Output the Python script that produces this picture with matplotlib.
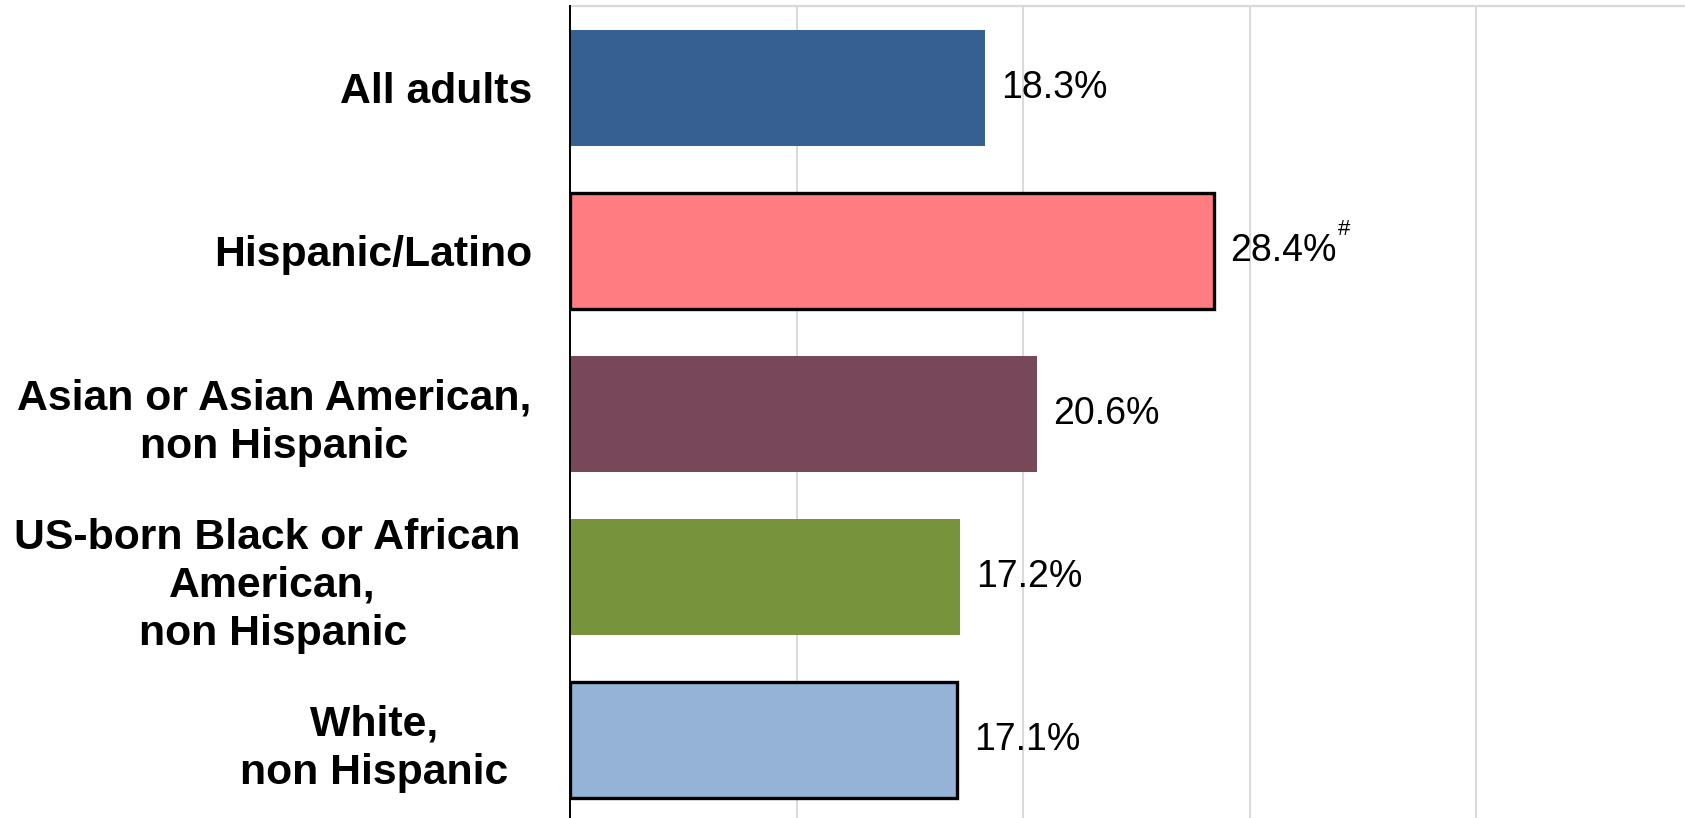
import matplotlib
matplotlib.use("Agg")
import matplotlib.pyplot as plt

# Share of adults in each group (percent)
groups = [
    "All adults",
    "Hispanic/Latino",
    "Asian or Asian American,\nnon Hispanic",
    "US-born Black or African \nAmerican,\nnon Hispanic",
    "White,  \nnon Hispanic  ",
]
values = [18.3, 28.4, 20.6, 17.2, 17.1]
value_notes = ["", "#", "", "", ""]
bar_colors = ["#366092", "#FF7C80", "#77475A", "#77933C", "#95B3D7"]
outlined = [False, True, False, False, True]

plt.rcParams["font.family"] = ["Liberation Sans", "DejaVu Sans"]

W, H = 1685, 818
fig = plt.figure(figsize=(W / 100, H / 100), dpi=100)
ax = fig.add_axes([570 / W, -4 / H, (1703 - 570) / W, (818 - 2) / H])

ypos = list(range(len(groups)))
for y, v, c, o in zip(ypos, values, bar_colors, outlined):
    ax.barh(y, v, height=0.71, color=c,
            edgecolor="black" if o else "none",
            linewidth=2.4 if o else 0, zorder=3)

ax.set_xlim(0, 50)
ax.set_ylim(len(groups) - 0.5, -0.5)
ax.set_xticks([0, 10, 20, 30, 40, 50])
ax.xaxis.grid(True, color="#D9D9D9", linewidth=1.4, zorder=0)
ax.tick_params(axis="x", length=0, labelbottom=False)
ax.tick_params(axis="y", length=0, pad=27.5)
ax.set_yticks(ypos)
ax.set_yticklabels(groups, fontsize=30.8, fontweight="bold",
                   multialignment="center", linespacing=1.26)

for side in ["right", "bottom"]:
    ax.spines[side].set_visible(False)
ax.spines["top"].set_color("#D9D9D9")
ax.spines["top"].set_linewidth(1.6)
ax.spines["left"].set_color("black")
ax.spines["left"].set_linewidth(1.4)
ax.spines["left"].set_zorder(4)

for y, v, note in zip(ypos, values, value_notes):
    t = ax.annotate(f"{v:.1f}%", xy=(v, y), xytext=(12, 0),
                    textcoords="offset points", ha="left", va="center",
                    fontsize=27, color="black")
    if note:
        ax.annotate(note, xy=(1, 0.8), xycoords=t, xytext=(1, 0),
                    textcoords="offset points", ha="left", va="bottom",
                    fontsize=16, color="black")

fig.savefig("out.png", dpi=100)
